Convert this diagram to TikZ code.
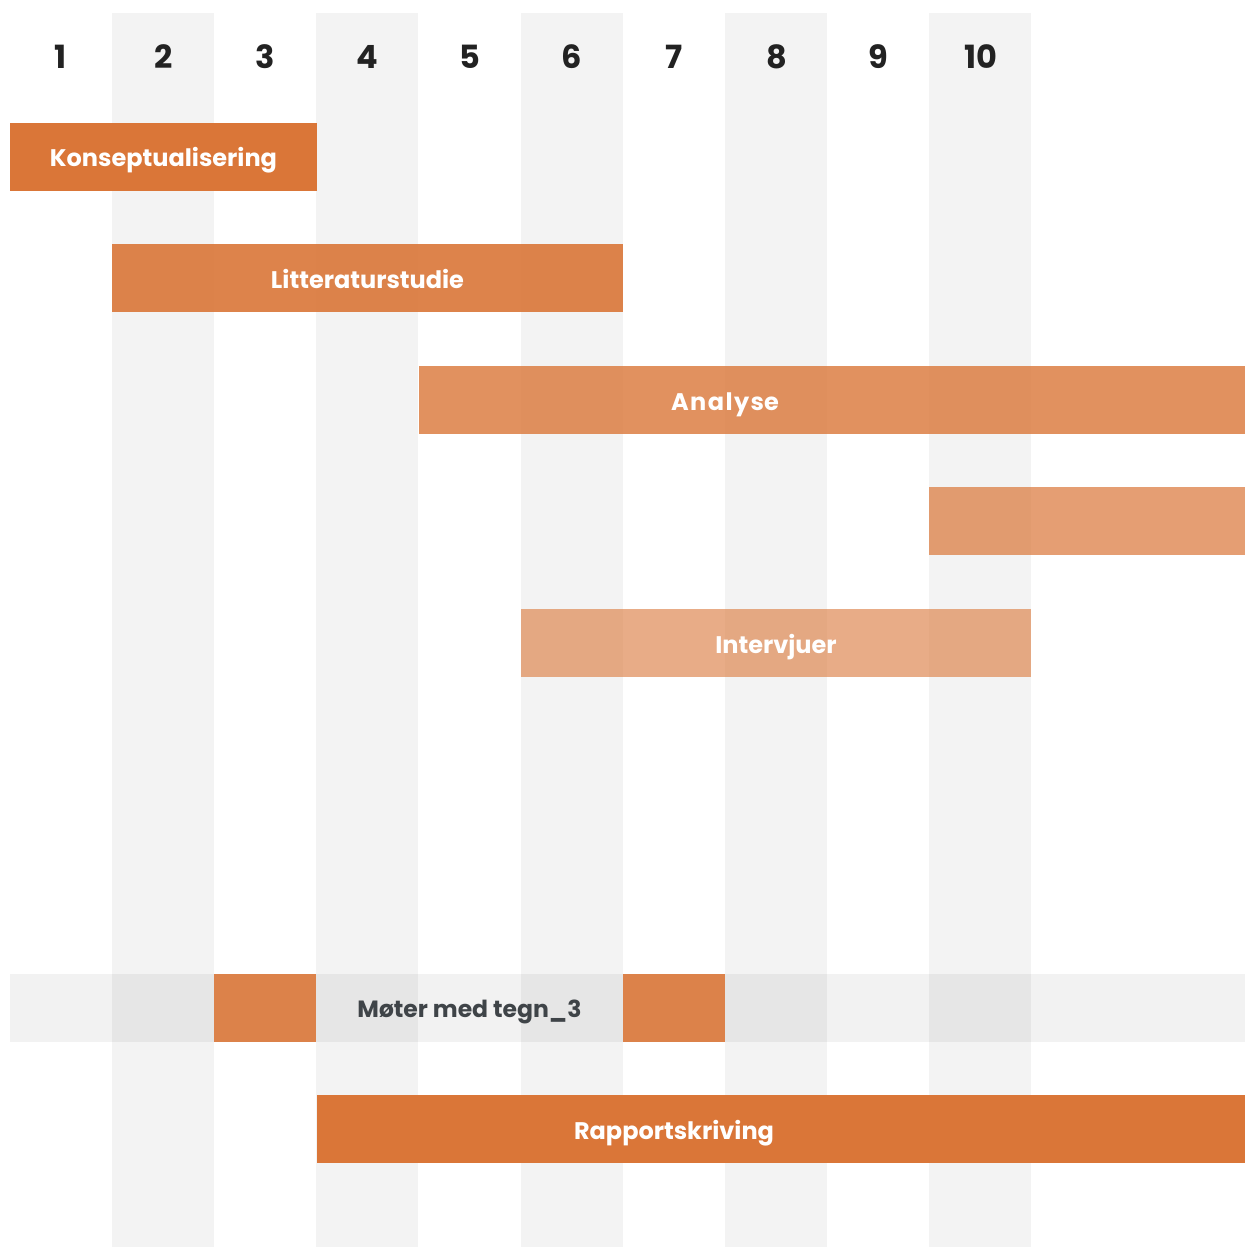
\documentclass[tikz,border=0pt]{standalone}
\usepackage{fontspec}
\setmainfont{Poppins}
\definecolor{stripe}{HTML}{F3F3F3}
\definecolor{task}{HTML}{DA7638}
\definecolor{numtxt}{HTML}{222222}
\definecolor{meettxt}{HTML}{3F4448}
\begin{document}
\begin{tikzpicture}[x=1pt,y=-1pt,
  weeknum/.style={font=\fontsize{32}{34}\selectfont\bfseries, text=numtxt, inner sep=0pt, anchor=base},
  barlabel/.style={font=\fontsize{24}{26}\selectfont\bfseries, text=white, inner sep=0pt, anchor=base},
  meetlabel/.style={font=\fontsize{23.5}{26}\selectfont\bfseries, text=meettxt, inner sep=0pt, anchor=base},
  taskbar/.style={fill=task, fill opacity=#1, draw=none},
]
\useasboundingbox (0,0) rectangle (1245,1247);
\fill[white] (0,0) rectangle (1245,1247);

% alternating week columns
\foreach \x in {112,316,521,725,929}
  \fill[stripe] (\x,13) rectangle ++(102.2,1234);

% week numbers
\foreach \n [count=\i from 0] in {1,...,10}
  \node[weeknum] (w\n) at (61+102.2*\i,68) {\n};

% Konseptualisering
\fill[taskbar=1] (10,123) rectangle (317,191);
\node[barlabel] (konsept) at (163.5,166) {Konseptualisering};

% Litteraturstudie
\fill[taskbar=0.9] (112,244) rectangle (623,312);
\node[barlabel] (litt) at (367.5,288.5) {Litteraturstudie};

% Analyse (tracked out)
\fill[taskbar=0.8] (419,366) rectangle (1245,434);
\node[barlabel] (analyse) at (725,410) {{\addfontfeature{LetterSpace=6}Analys}e};

% unlabelled task
\fill[taskbar=0.7] (929,487) rectangle (1245,555);

% Intervjuer
\fill[taskbar=0.6] (521,609) rectangle (1031,677);
\node[barlabel] (interv) at (776,653.5) {Intervjuer};

% meetings row
\fill[black, fill opacity=0.05] (10,974) rectangle (1245,1042);
\fill[taskbar=0.9] (214,974) rectangle (316,1042);
\fill[taskbar=0.9] (623,974) rectangle (725,1042);
\node[meetlabel] (moter) at (469.5,1017) {Møter med tegn\_3};

% Rapportskriving
\fill[taskbar=1] (317,1095) rectangle (1245,1163);
\node[barlabel] (rapport) at (674,1139) {Rapportskriving};
\end{tikzpicture}
\end{document}
